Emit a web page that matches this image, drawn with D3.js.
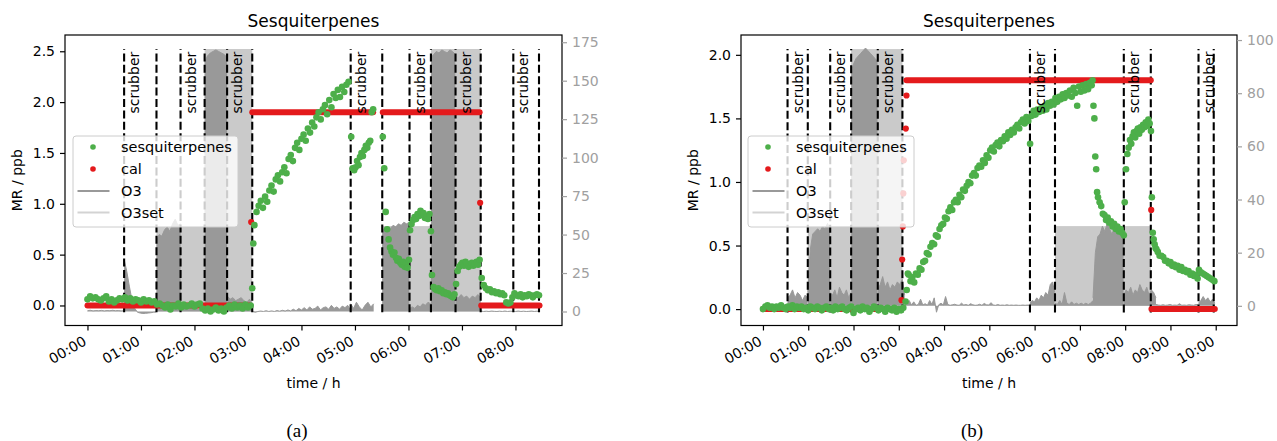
<!DOCTYPE html>
<html><head><meta charset="utf-8">
<script src="https://cdn.jsdelivr.net/npm/d3@7"></script>
<style>
body{margin:0;background:#fff}
svg{display:block}
text{font-family:"DejaVu Sans",sans-serif}
</style>
</head><body>
<svg id="c" width="1277" height="441"></svg>
<script>
// ---------------- DATA ----------------
const hoursA = [0,1,2,3,4,5,6,7,8];
const hourLabelsA = ["00:00","01:00","02:00","03:00","04:00","05:00","06:00","07:00","08:00"];
const hoursB = [0,1,2,3,4,5,6,7,8,9,10];
const hourLabelsB = ["00:00","01:00","02:00","03:00","04:00","05:00","06:00","07:00","08:00","09:00","10:00"];
const leftTicksA = [0,0.5,1,1.5,2,2.5];
const rightTicksA = [0,25,50,75,100,125,150,175];
const leftTicksB = [0,0.5,1,1.5,2];
const rightTicksB = [0,20,40,60,80,100];

// dashed lines (h) and the ones carrying a "scrubber" label
const vlinesA = [0.685,1.29,1.74,2.19,2.61,3.08,4.92,5.51,6.02,6.42,6.88,7.35,7.96,8.44];
const scrubberA = [0.685,1.74,2.61,4.92,6.02,6.88,7.96];
const vlineSpanA = [-0.066, 2.52];
const vlinesB = [0.543,0.99,1.485,1.948,2.536,3.08,5.897,6.45,7.97,8.566,9.62,9.956];
const scrubberB = [0.543,1.485,2.536,5.897,7.97,9.62];
const vlineSpanB = [-0.027, 2.046];

// sesquiterpenes (ppb), sampled evenly between t0 and t1 (h)
const sesqA = [
 {t0:0, t1:3.05, v:[0.06,0.09,0.07,0.08,0.06,0.05,0.07,0.09,0.04,0.06,0.03,0.05,0.07,0.06,0.08,0.05,0.07,0.04,0.06,0.05,0.03,0.06,0.04,0.05,0.03,0.04,0.01,0.02,0.00,-0.02,0.01,-0.04,0.00,-0.01,0.02,-0.02,0.01,-0.01,0.00,0.02,-0.01,0.01,0.02,-0.03,-0.05,-0.03,-0.06,-0.04,-0.02,-0.05,-0.03,-0.06,-0.02,0.00,-0.03,0.01,-0.02,0.00,-0.03,0.01,-0.02,0.00]},
 {t0:3.08, t1:3.12, v:[0.17,0.61,0.79]},
 {t0:3.16, t1:4.88, v:[0.92,0.98,1.03,0.96,1.07,1.02,1.13,1.18,1.12,1.24,1.28,1.22,1.31,1.36,1.30,1.44,1.48,1.42,1.55,1.60,1.53,1.64,1.68,1.62,1.74,1.70,1.80,1.76,1.85,1.90,1.83,1.93,1.97,1.88,2.02,1.95,2.08,2.04,2.12,2.05,2.15,2.10,2.17,2.20]},
 {t0:4.93, t1:5.34, v:[1.66,1.35,1.33,1.36,1.42,1.38,1.46,1.50,1.47,1.53,1.57,1.55,1.60,1.62,1.90,1.93]},
 {t0:5.52, t1:6.01, v:[1.66,1.35,0.92,0.75,0.65,0.57,0.53,0.50,0.52,0.47,0.44,0.46,0.42,0.40,0.43,0.38,0.41,0.37,0.45]},
 {t0:6.03, t1:6.42, v:[0.74,0.80,0.84,0.87,0.85,0.90,0.88,0.93,0.89,0.91,0.86,0.88,0.85,0.90,0.73]},
 {t0:6.44, t1:6.86, v:[0.30,0.18,0.16,0.15,0.17,0.14,0.15,0.12,0.13,0.11,0.12,0.10,0.09,0.08,0.11]},
 {t0:6.89, t1:7.33, v:[0.21,0.34,0.38,0.40,0.42,0.39,0.43,0.41,0.38,0.40,0.42,0.39,0.41,0.43,0.40,0.45]},
 {t0:7.37, t1:8.44, v:[0.27,0.20,0.17,0.15,0.16,0.13,0.14,0.12,0.13,0.11,0.12,0.10,0.03,0.02,0.03,0.08,0.12,0.10,0.09,0.11,0.08,0.10,0.09,0.11,0.10,0.08,0.10,0.11,0.10]}
];
const sesqB = [
 {t0:0, t1:3.10, v:[0.00,0.02,0.03,0.01,0.02,0.00,0.02,0.01,0.03,0.01,0.00,0.02,0.01,0.03,0.00,0.02,0.01,0.02,0.00,0.01,-0.01,0.02,0.01,0.00,0.02,0.01,-0.01,0.01,0.02,0.00,0.01,-0.01,0.02,0.00,0.01,0.02,0.00,-0.01,0.01,0.02,-0.03,0.00,0.01,-0.01,0.02,0.00,0.01,-0.02,0.00,0.02,0.01,-0.01,0.01,0.00,-0.02,0.01,0.00,-0.01,0.01,-0.02,0.00,-0.01,0.01]},
 {t0:3.15, t1:3.20, v:[0.06,0.15,0.28]},
 {t0:3.22, t1:7.26, v:[0.27,0.22,0.25,0.21,0.28,0.27,0.32,0.31,0.37,0.38,0.44,0.43,0.49,0.52,0.51,0.58,0.57,0.63,0.66,0.67,0.72,0.71,0.77,0.80,0.78,0.84,0.86,0.84,0.90,0.88,0.94,0.93,0.97,1.00,0.99,1.05,1.07,1.05,1.11,1.13,1.12,1.17,1.15,1.21,1.19,1.25,1.27,1.24,1.29,1.31,1.28,1.33,1.32,1.36,1.34,1.39,1.37,1.41,1.39,1.43,1.45,1.42,1.47,1.49,1.46,1.51,1.48,1.30,1.52,1.56,1.53,1.57,1.55,1.58,1.56,1.60,1.57,1.62,1.60,1.63,1.61,1.66,1.63,1.67,1.65,1.69,1.66,1.70,1.68,1.72,1.67,1.74,1.70,1.60,1.75,1.71,1.76,1.72,1.77,1.73,1.78,1.76]},
 {t0:7.28, t1:7.38, v:[1.80,1.60,1.50,1.20,1.10,0.92]},
 {t0:7.40, t1:7.97, v:[0.88,0.84,0.81,0.75,0.74,0.70,0.72,0.68,0.69,0.65,0.67,0.63,0.65,0.61,0.63,0.60,0.58]},
 {t0:7.99, t1:8.57, v:[0.84,1.10,1.22,1.27,1.33,1.30,1.36,1.39,1.35,1.40,1.42,1.38,1.43,1.41,1.45,1.43,1.47,1.44,1.49,1.46,1.40]},
 {t0:8.59, t1:8.69, v:[0.88,0.60,0.55,0.51,0.48,0.47]},
 {t0:8.72, t1:9.60, v:[0.45,0.42,0.42,0.41,0.38,0.38,0.36,0.37,0.34,0.35,0.33,0.34,0.31,0.33,0.30,0.31,0.29,0.30,0.27,0.28,0.26,0.27,0.24]},
 {t0:9.63, t1:9.97, v:[0.31,0.29,0.28,0.27,0.26,0.25,0.24,0.23,0.22]}
];

// cal (ppb): constant levels and single points
const calLevelsA = [{t0:0,t1:3.03,v:0},{t0:3.08,t1:5.34,v:1.9},{t0:5.52,t1:7.33,v:1.9},{t0:7.36,t1:8.45,v:0}];
const calPointsA = [[3.06,0.82],[7.34,1.01]];
const calLevelsB = [{t0:0,t1:3.05,v:0},{t0:3.17,t1:8.566,v:1.8},{t0:8.58,t1:9.98,v:0}];
const calPointsB = [[3.06,0.07],[3.075,0.39],[3.09,0.65],[3.10,0.91],[3.11,1.17],[3.155,1.42],[3.17,1.68],[8.575,0.78]];

// O3 (right axis), sampled evenly between t0 and t1
const o3A = [
 {t0:0, t1:0.68, v:[0.5,0.8,0.4,0.6,0.5,0.7,0.4,0.6,0.5,0.8,0.5,0.6,0.4,0.5]},
 {t0:0.685, t1:1.285, v:[34,26,16,7,2,-0.5,-1,-1.3,-1.2,-1,-0.8,-0.5,-0.3]},
 {t0:1.29, t1:1.74, v:[46,50,49,53,55,52,57,60,56,57]},
 {t0:1.745, t1:2.185, v:[4,2,3,1,2,3,2,1,2,3]},
 {t0:2.19, t1:2.61, v:[162,166,168,169,170,169,168,167,165]},
 {t0:2.615, t1:3.08, v:[10,8,9,7,8,9,7,6,8,5]},
 {t0:3.085, t1:4.915, v:[0,-0.5,0,0.3,0,0.5,0,0.4,0,0.6,0.2,0.8,0.3,1,0.4,1.5,0.5,2,1,2.5,1,3,1.5,2,3.5,1,2.5,3,1.5,4,2,3,1.5,3.5,2.5,4,1]},
 {t0:4.92, t1:5.35, v:[5,2,6,3,1,4,6,3,5]},
 {t0:5.51, t1:6.015, v:[53,54,55,54,56,55,57,56,58,57,58]},
 {t0:6.02, t1:6.415, v:[2,3,2,4,3,5,4,6,5]},
 {t0:6.42, t1:6.875, v:[165,167,169,168,170,169,168,170,169,167]},
 {t0:6.88, t1:7.35, v:[10,9,11,9,10,8,10,9,11,9]},
 {t0:7.355, t1:8.45, v:[0.3,0,0.2,0,0.3,0.1,0,0.2,0,0.3,0,0.2,0.1,0,0.3,0,0.2,0,0.1,0.3,0,0.2,0]}
];
const o3B = [
 {t0:0, t1:0.54, v:[0,0.3,0,0.2,0.5,0,0.3,0,0.2,0.4,0.5]},
 {t0:0.543, t1:0.985, v:[3,4,6,3,5,4,2,4,3]},
 {t0:0.99, t1:1.48, v:[5,21,27,28,29,28,30,29,31,29]},
 {t0:1.485, t1:1.945, v:[5,4,6,3,7,5,4,6,3,5]},
 {t0:1.948, t1:2.53, v:[88,91,93,94,95,96,97,96,95,94,93,92]},
 {t0:2.536, t1:3.13, v:[6,8,11,7,9,6,8,7,9,8,10,4]},
 {t0:3.13, t1:5.89, v:[1,0.5,2,0.3,1.5,0.2,0.5,2.5,0.3,0.8,0.2,2,0.5,3,-2.4,0.4,1,0.3,3.5,0.5,0.2,0.4,0.6,0.3,0.2,1,0.3,0.5,0.2,0.8,0.4,0.2,0.3,0.6,0.2,0.9,0.4,0.3,1.2,0.3,0.2,0.5,0.2,0.3,0.2,0.4,0.2,0.3,0.2,0.3,0.2,0.2,0.3,0.2,0.3,0.2]},
 {t0:5.897, t1:6.445, v:[1,2,1.5,3,2,4,3,5,4,8,9,5]},
 {t0:6.45, t1:7.29, v:[1,0.5,2,0.5,5,1,0.5,1.5,0.5,1,0.5,1,0.5,1,0.5,1,2]},
 {t0:7.29, t1:7.965, v:[3,20,26,27,30,28,31,29,27,29,28,27,29,28]},
 {t0:7.97, t1:8.68, v:[4,6,5,7,4,6,5,8,6,5,7,4,6,5,3]},
 {t0:8.68, t1:9.615, v:[0.5,0.3,0.2,0.4,0.2,0.3,0.5,0.2,0.3,0.2,0.8,0.2,0.3,0.2,0.4,0.3,0.2,0.5,0.4]},
 {t0:9.62, t1:9.98, v:[1,2,3.5,2,3,1.5,2.5,1]}
];
// O3 set-point (right axis), step levels
const o3setA = [{t0:1.29,t1:2.19,v:55},{t0:2.19,t1:3.08,v:170.6},{t0:5.51,t1:6.42,v:55.5},{t0:6.42,t1:7.35,v:170.6}];
const o3setB = [{t0:0.99,t1:1.948,v:30},{t0:1.948,t1:3.08,v:96.6},{t0:6.45,t1:8.566,v:30}];

const legendLabels = ["sesquiterpenes","cal","O3","O3set"];

// ---------------- STYLE ----------------
const GREEN = "#4daf4a", RED = "#e41a1c", O3C = "#999999", O3SETC = "#cacaca", O3SETLEG = "#d3d3d3", RGRAY = "#a0a0a0";
const FONT = 14;
const svg = d3.select("#c");

function expand(segs){
  const out = [];
  segs.forEach(s => {
    const n = s.v.length;
    s.v.forEach((v,i) => out.push([n>1 ? s.t0 + i*(s.t1-s.t0)/(n-1) : s.t0, v]));
  });
  return out;
}

function panel(cfg){
  const {id, left, right, top, bottom} = cfg;
  const x = d3.scaleLinear().domain(cfg.xDomain).range([left, right]);
  const yL = d3.scaleLinear().domain(cfg.yLDomain).range([bottom, top]);
  const yR = d3.scaleLinear().domain(cfg.yRDomain).range([bottom, top]);
  const g = svg.append("g");

  svg.append("clipPath").attr("id","clip"+id).append("rect")
    .attr("x",left).attr("y",top).attr("width",right-left).attr("height",bottom-top);
  const plot = g.append("g").attr("clip-path",`url(#clip${id})`);

  // O3 set-point areas
  plot.selectAll(".o3set").data(cfg.o3set).join("rect")
    .attr("x",d=>x(d.t0)).attr("width",d=>x(d.t1)-x(d.t0))
    .attr("y",d=>yR(d.v)).attr("height",d=>yR(0)-yR(d.v))
    .attr("fill",O3SETC);

  // O3 measured
  const area = d3.area().x(d=>x(d[0])).y0(yR(0)).y1(d=>yR(d[1]));
  const line = d3.line().x(d=>x(d[0])).y(d=>yR(d[1]));
  cfg.o3.forEach(s => {
    const pts = expand([s]);
    plot.append("path").datum(pts).attr("d",area).attr("fill",O3C);
    plot.append("path").datum(pts).attr("d",line).attr("fill","none").attr("stroke",O3C).attr("stroke-width",1);
  });

  // dashed lines
  plot.selectAll(".vl").data(cfg.vlines).join("line")
    .attr("x1",d=>x(d)).attr("x2",d=>x(d))
    .attr("y1",yL(cfg.vspan[0])).attr("y2",yL(cfg.vspan[1]))
    .attr("stroke","#000").attr("stroke-width",2.1).attr("stroke-dasharray","8,3.4");

  // scrubber labels
  g.selectAll(".scr").data(cfg.scrubber).join("text")
    .attr("transform",d=>`translate(${x(d)+15},${yL(cfg.vspan[1])+2.5}) rotate(-90)`)
    .attr("text-anchor","end").attr("font-size",FONT).attr("fill","#000")
    .text("scrubber");

  // cal levels
  plot.selectAll(".cl").data(cfg.calLevels).join("line")
    .attr("x1",d=>x(d.t0)).attr("x2",d=>x(d.t1))
    .attr("y1",d=>yL(d.v)).attr("y2",d=>yL(d.v))
    .attr("stroke",RED).attr("stroke-width",6).attr("stroke-linecap","round");
  plot.selectAll(".cp").data(cfg.calPoints).join("circle")
    .attr("cx",d=>x(d[0])).attr("cy",d=>yL(d[1])).attr("r",3.1).attr("fill",RED);

  // sesquiterpenes
  plot.selectAll(".sp").data(expand(cfg.sesq)).join("circle")
    .attr("cx",d=>x(d[0])).attr("cy",d=>yL(d[1])).attr("r",3.3).attr("fill",GREEN);

  // frame
  g.append("rect").attr("x",left).attr("y",top).attr("width",right-left).attr("height",bottom-top)
    .attr("fill","none").attr("stroke","#000").attr("stroke-width",1.2);

  // axes
  const axL = g.append("g").attr("transform",`translate(${left},0)`)
    .call(d3.axisLeft(yL).tickValues(cfg.leftTicks).tickFormat(d3.format(".1f")).tickSize(5).tickPadding(5));
  const axR = g.append("g").attr("transform",`translate(${right},0)`)
    .call(d3.axisRight(yR).tickValues(cfg.rightTicks).tickFormat(d3.format("d")).tickSize(5).tickPadding(5));
  const axB = g.append("g").attr("transform",`translate(0,${bottom})`)
    .call(d3.axisBottom(x).tickValues(cfg.hours).tickFormat((d,i)=>cfg.hourLabels[i]).tickSize(5).tickPadding(5));
  [axL,axR,axB].forEach(a=>{
    a.select(".domain").remove();
    a.selectAll("text").attr("font-size",FONT).style("font-family","'DejaVu Sans', sans-serif");
    a.selectAll("line").attr("stroke-width",1.2);
  });
  axR.selectAll("line").attr("stroke",RGRAY);
  axR.selectAll("text").attr("fill",RGRAY);
  axB.selectAll(".tick text").attr("x",0).attr("y",11).attr("dy",null)
    .attr("text-anchor","end").attr("transform","translate(-6,9) rotate(-30)");

  // titles
  const cx = (left+right)/2;
  g.append("text").attr("x",cx).attr("y",27).attr("text-anchor","middle").attr("font-size",17).text("Sesquiterpenes");
  g.append("text").attr("x",cx).attr("y",388).attr("text-anchor","middle").attr("font-size",FONT).text("time / h");
  g.append("text").attr("transform",`translate(${left-43},${(top+bottom)/2}) rotate(-90)`)
    .attr("text-anchor","middle").attr("font-size",FONT).text("MR / ppb");
  g.append("text").attr("x",cfg.capX).attr("y",437).attr("text-anchor","middle")
    .style("font-family","'Liberation Serif', 'Times New Roman', serif").attr("font-size",19).text(cfg.caption);

  // legend
  const lx = left + cfg.legDx, ly = 136, lw = cfg.legW, lh = 91;
  const lg = g.append("g");
  lg.append("rect").attr("x",lx).attr("y",ly).attr("width",lw).attr("height",lh).attr("rx",3)
    .attr("fill","rgba(255,255,255,0.8)").attr("stroke","#cccccc").attr("stroke-width",1);
  const rows = [147,169,191,212.5];
  legendLabels.forEach((lab,i)=>{
    const yy = rows[i];
    if(i<2){
      lg.append("circle").attr("cx",lx+20).attr("cy",yy).attr("r",2.8).attr("fill",i===0?GREEN:RED);
    } else {
      lg.append("line").attr("x1",lx+4.5).attr("x2",lx+36.5).attr("y1",yy).attr("y2",yy)
        .attr("stroke",i===2?O3C:O3SETLEG).attr("stroke-width",2.2);
    }
    lg.append("text").attr("x",lx+48).attr("y",yy+5).attr("font-size",FONT+0.5).text(lab);
  });
}

panel({id:"A", left:65, right:562, top:35, bottom:325.5,
  xDomain:[-0.42,8.87], yLDomain:[-0.197,2.66], yRDomain:[-9.1,179.7],
  hours:hoursA, hourLabels:hourLabelsA, leftTicks:leftTicksA, rightTicks:rightTicksA,
  vlines:vlinesA, scrubber:scrubberA, vspan:vlineSpanA,
  sesq:sesqA, calLevels:calLevelsA, calPoints:calPointsA, o3:o3A, o3set:o3setA,
  capX:297, caption:"(a)", legDx:8, legW:165});
panel({id:"B", left:741, right:1237, top:35, bottom:325.5,
  xDomain:[-0.485,10.47], yLDomain:[-0.129,2.156], yRDomain:[-7.4,101.9],
  hours:hoursB, hourLabels:hourLabelsB, leftTicks:leftTicksB, rightTicks:rightTicksB,
  vlines:vlinesB, scrubber:scrubberB, vspan:vlineSpanB,
  sesq:sesqB, calLevels:calLevelsB, calPoints:calPointsB, o3:o3B, o3set:o3setB,
  capX:972, caption:"(b)", legDx:7, legW:166});
</script>
</body></html>
